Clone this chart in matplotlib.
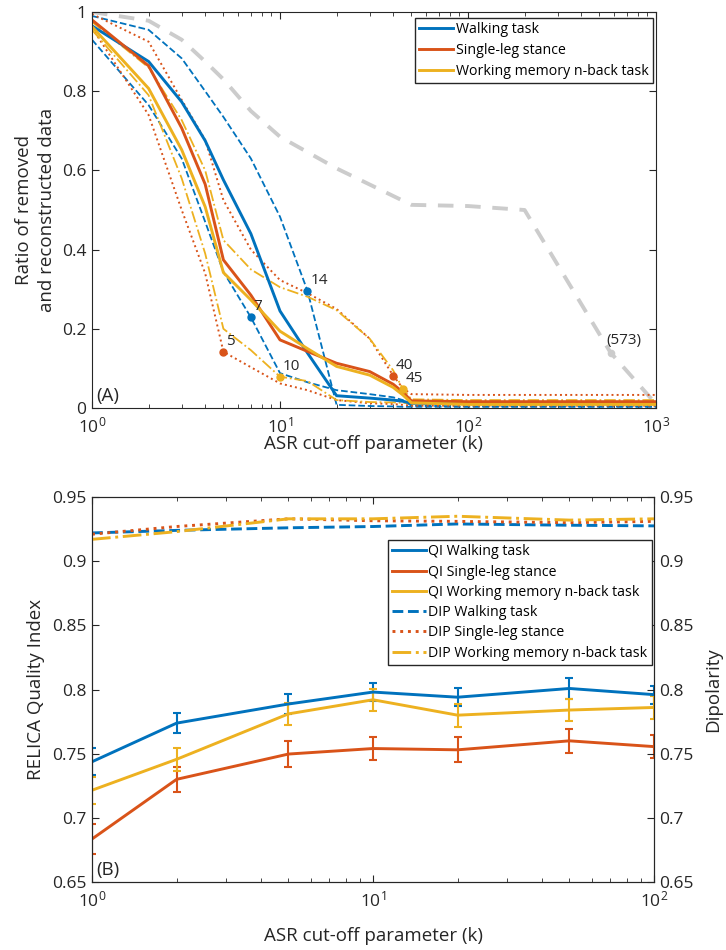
import matplotlib

matplotlib.use("Agg")
import matplotlib.pyplot as plt
import numpy as np

plt.rcParams["font.family"] = ["Open Sans", "DejaVu Sans"]
plt.rcParams["mathtext.fontset"] = "custom"
plt.rcParams["mathtext.rm"] = "Open Sans"

BLUE = "#0072BD"
ORANGE = "#D95319"
YELLOW = "#EDB120"
GREY = "#CCCCCC"
INK = "#262626"

# ---- panel A: removed/reconstructed ratio vs cut-off k
k_grid = [1, 2, 3, 4, 5, 7, 10, 14, 20, 30, 40, 45, 50, 100, 1000]

walk_mean = [0.965, 0.875, 0.773, 0.675, 0.576, 0.44, 0.245, 0.139, 0.031, 0.025, 0.02, 0.017, 0.012, 0.011, 0.011]
walk_hi = [0.99, 0.955, 0.883, 0.80, 0.735, 0.63, 0.483, 0.296, 0.008, 0.005, 0.004, 0.003, 0.003, 0.003, 0.003]
walk_lo = [0.93, 0.765, 0.63, 0.47, 0.344, 0.229, 0.088, 0.065, 0.045, 0.035, 0.027, 0.02, 0.006, 0.004, 0.004]

stance_mean = [0.98, 0.864, 0.707, 0.565, 0.374, 0.285, 0.172, 0.143, 0.113, 0.092, 0.06, 0.04, 0.018, 0.016, 0.016]
stance_hi = [0.995, 0.925, 0.778, 0.677, 0.525, 0.40, 0.323, 0.29, 0.25, 0.175, 0.082, 0.05, 0.035, 0.033, 0.033]
stance_lo = [0.96, 0.74, 0.50, 0.34, 0.142, 0.103, 0.062, 0.045, 0.02, 0.012, 0.01, 0.008, 0.006, 0.006, 0.006]

nback_mean = [0.963, 0.807, 0.652, 0.508, 0.342, 0.273, 0.194, 0.15, 0.105, 0.083, 0.052, 0.033, 0.013, 0.009, 0.009]
nback_hi = [0.975, 0.86, 0.727, 0.60, 0.424, 0.35, 0.305, 0.281, 0.247, 0.175, 0.095, 0.048, 0.022, 0.02, 0.02]
nback_lo = [0.955, 0.79, 0.58, 0.39, 0.20, 0.146, 0.079, 0.068, 0.02, 0.015, 0.014, 0.013, 0.012, 0.012, 0.012]

grey_k = [1, 2, 3, 4, 5, 7, 10, 20, 50, 100, 200, 573, 1000]
grey_val = [1.0, 0.978, 0.93, 0.875, 0.83, 0.75, 0.685, 0.605, 0.513, 0.51, 0.50, 0.14, 0.01]

# labelled cut-off markers: (k, ratio, colour)
mark_k = [7, 14, 5, 40, 10, 45]
mark_val = [0.229, 0.296, 0.142, 0.082, 0.079, 0.048]
mark_col = [BLUE, BLUE, ORANGE, ORANGE, YELLOW, YELLOW]

# ---- panel B: RELICA quality index and dipolarity
k_relica = [1, 2, 5, 10, 20, 50, 100]
qi_walk = [0.7437, 0.7738, 0.7887, 0.798, 0.794, 0.8008, 0.796]
qi_walk_err = [0.0105, 0.008, 0.008, 0.007, 0.007, 0.008, 0.007]
qi_stance = [0.6835, 0.730, 0.7497, 0.754, 0.753, 0.760, 0.7555]
qi_stance_err = [0.012, 0.010, 0.0104, 0.0092, 0.0098, 0.0092, 0.0092]
qi_nback = [0.7215, 0.7456, 0.781, 0.792, 0.780, 0.784, 0.786]
qi_nback_err = [0.0105, 0.009, 0.0087, 0.0085, 0.009, 0.0087, 0.0087]

dip_walk = [0.922, 0.924, 0.926, 0.927, 0.929, 0.928, 0.9275]
dip_stance = [0.921, 0.927, 0.933, 0.9315, 0.931, 0.930, 0.931]
dip_nback = [0.917, 0.923, 0.933, 0.933, 0.935, 0.932, 0.933]

TICK_FS = 12.5
LABEL_FS = 13.5


def style_axis(ax):
    ax.tick_params(which="both", direction="in", top=True, labelsize=TICK_FS, colors=INK)
    ax.tick_params(which="major", length=5, pad=4)
    ax.tick_params(which="minor", length=3)
    ax.tick_params(axis="x", pad=6)
    for sp in ax.spines.values():
        sp.set_linewidth(0.8)
        sp.set_color(INK)


fig = plt.figure(figsize=(7.26, 9.5), dpi=100)

# ---------- panel A
ax1 = fig.add_axes([92 / 726, 1 - 408 / 950, 564 / 726, 396 / 950])
ax1.plot(grey_k, grey_val, color=GREY, lw=2.8, dashes=(4, 3))
ax1.plot(grey_k[-2], grey_val[-2], "o", color=GREY, ms=4.5)
ax1.annotate("(573)", (grey_k[-2], grey_val[-2]), xytext=(-3, 6), textcoords="offset points",
             fontsize=11, color=INK)

ax1.plot(k_grid, walk_hi, color=BLUE, lw=1.3, ls="--")
ax1.plot(k_grid, walk_lo, color=BLUE, lw=1.3, ls="--")
ax1.plot(k_grid, stance_hi, color=ORANGE, lw=1.4, ls=":")
ax1.plot(k_grid, stance_lo, color=ORANGE, lw=1.4, ls=":")
ax1.plot(k_grid, nback_hi, color=YELLOW, lw=1.3, ls="-.")
ax1.plot(k_grid, nback_lo, color=YELLOW, lw=1.3, ls="-.")
ax1.plot(k_grid, walk_mean, color=BLUE, lw=2.1, label="Walking task")
ax1.plot(k_grid, stance_mean, color=ORANGE, lw=2.1, label="Single-leg stance")
ax1.plot(k_grid, nback_mean, color=YELLOW, lw=2.1, label="Working memory n-back task")

for kk, vv, cc in zip(mark_k, mark_val, mark_col):
    ax1.plot(kk, vv, "o", color=cc, ms=5)
    ax1.annotate(str(kk), (kk, vv), xytext=(2, 5), textcoords="offset points",
                 fontsize=11, color=INK)

ax1.set_xscale("log")
ax1.set_xlim(1, 1000)
ax1.set_ylim(0, 1)
ax1.set_yticks([0, 0.2, 0.4, 0.6, 0.8, 1])
ax1.set_yticklabels(["0", "0.2", "0.4", "0.6", "0.8", "1"])
ax1.tick_params(right=True)
style_axis(ax1)
ax1.set_xlabel("ASR cut-off parameter (k)", fontsize=LABEL_FS, labelpad=-1, color=INK)
ax1.set_ylabel("Ratio of removed\nand reconstructed data", fontsize=LABEL_FS, labelpad=4,
               linespacing=1.35, color=INK)
ax1.text(0.008, 0.008, "(A)", transform=ax1.transAxes, fontsize=LABEL_FS, va="bottom", color=INK)
ax1.legend(loc="upper right", fontsize=10.2, handlelength=2.4, handletextpad=0.15, borderpad=0.3,
           labelspacing=0.42, fancybox=False, edgecolor=INK, framealpha=1,
           bbox_to_anchor=(0.994, 0.985), borderaxespad=0)

# ---------- panel B
ax2 = fig.add_axes([92 / 726, 1 - 882 / 950, 562 / 726, 385 / 950])
ax2r = ax2.twinx()

h1 = ax2.errorbar(k_relica, qi_walk, yerr=qi_walk_err, color=BLUE, lw=2.1, elinewidth=1.5,
                  capsize=3, capthick=1.5, label="QI Walking task")
h2 = ax2.errorbar(k_relica, qi_stance, yerr=qi_stance_err, color=ORANGE, lw=2.1, elinewidth=1.5,
                  capsize=3, capthick=1.5, label="QI Single-leg stance")
h3 = ax2.errorbar(k_relica, qi_nback, yerr=qi_nback_err, color=YELLOW, lw=2.1, elinewidth=1.5,
                  capsize=3, capthick=1.5, label="QI Working memory n-back task")

h4, = ax2r.plot(k_relica, dip_walk, color=BLUE, lw=2.1, ls="--", label="DIP Walking task")
h5, = ax2r.plot(k_relica, dip_stance, color=ORANGE, lw=2.1, ls=":", label="DIP Single-leg stance")
h6, = ax2r.plot(k_relica, dip_nback, color=YELLOW, lw=2.1, ls="-.", label="DIP Working memory n-back task")

yt = [0.65, 0.7, 0.75, 0.8, 0.85, 0.9, 0.95]
ytl = ["0.65", "0.7", "0.75", "0.8", "0.85", "0.9", "0.95"]
for a in (ax2, ax2r):
    a.set_xscale("log")
    a.set_xlim(1, 100)
    a.set_ylim(0.65, 0.95)
    a.set_yticks(yt)
    a.set_yticklabels(ytl)
    style_axis(a)

ax2.set_xlabel("ASR cut-off parameter (k)", fontsize=LABEL_FS, labelpad=12, color=INK)
ax2.set_ylabel("RELICA Quality Index", fontsize=LABEL_FS, labelpad=5, color=INK)
ax2r.set_ylabel("Dipolarity", fontsize=LABEL_FS, labelpad=7, color=INK)
ax2.text(0.008, 0.008, "(B)", transform=ax2.transAxes, fontsize=LABEL_FS, va="bottom", color=INK)

ax2r.legend([h1[0], h2[0], h3[0], h4, h5, h6],
            [h1.get_label(), h2.get_label(), h3.get_label(), h4.get_label(), h5.get_label(), h6.get_label()],
            loc="upper right", bbox_to_anchor=(0.996, 0.888), borderaxespad=0, fontsize=10.2,
            handlelength=2.4, handletextpad=0.15, borderpad=0.3, labelspacing=0.37,
            fancybox=False, edgecolor=INK, framealpha=1)

fig.savefig("out.png", dpi=100)
